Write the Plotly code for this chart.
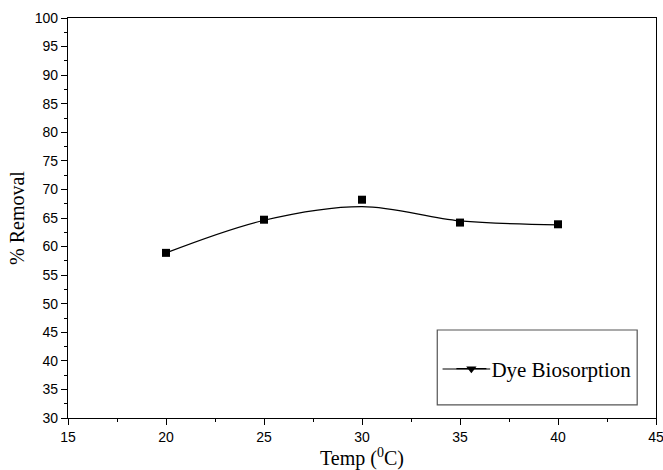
import plotly.graph_objects as go

temp = [20, 25, 30, 35, 40]
removal = [58.9, 64.7, 68.2, 64.2, 63.9]
# smoothed fit curve values at the same temperatures
fit_curve = [58.9, 64.6, 67.0, 64.5, 63.8]
series_name = "Dye Biosorption"

fig = go.Figure()
fig.add_trace(go.Scatter(x=temp, y=fit_curve, mode="lines",
                         line=dict(color="black", width=1.2, shape="spline", smoothing=1.0),
                         showlegend=False, hoverinfo="skip"))
fig.add_trace(go.Scatter(x=temp, y=removal, mode="markers",
                         marker=dict(symbol="square", size=8, color="black"),
                         showlegend=False))
fig.add_trace(go.Scatter(x=[None], y=[None], mode="lines+markers", name=series_name,
                         line=dict(color="black", width=1.2),
                         marker=dict(symbol="triangle-down", size=9, color="black")))

axis_common = dict(showline=True, linecolor="black", linewidth=1.2, mirror=True,
                   ticks="outside", ticklen=6, tickwidth=1, tickcolor="black",
                   showgrid=False, zeroline=False, automargin=False,
                   ticklabeloverflow="allow",
                   tickfont=dict(family="Liberation Sans, Arial", size=14, color="black"),
                   minor=dict(ticks="outside", ticklen=3, tickwidth=1, tickcolor="black", dtick=2.5))

fig.update_xaxes(range=[15, 45], dtick=5, tick0=15, **axis_common)
fig.update_yaxes(range=[30, 100], dtick=5, tick0=30, **axis_common)

title_font = dict(family="Liberation Serif, Times New Roman", size=20, color="black")
fig.add_annotation(text="Temp (<sup>0</sup>C)", xref="paper", yref="paper", x=0.5, y=0,
                   yshift=-39, xanchor="center", yanchor="middle", showarrow=False, font=title_font)
fig.add_annotation(text="% Removal", xref="paper", yref="paper", x=0, y=0.5,
                   xshift=-51, xanchor="center", yanchor="middle", textangle=-90,
                   showarrow=False, font=title_font)

# legend frame
fig.add_shape(type="rect", xref="paper", yref="paper", x0=0.628, x1=0.968, y0=0.033, y1=0.22,
              line=dict(color="#555555", width=1.2), fillcolor="rgba(0,0,0,0)")
# longer legend sample line, as in the reference
fig.add_shape(type="line", xref="paper", yref="paper", x0=0.637, x1=0.718, y0=0.1225, y1=0.1225,
              line=dict(color="black", width=1.2))

fig.update_layout(
    width=663, height=470,
    margin=dict(l=68, r=7, t=18, b=52),
    paper_bgcolor="white", plot_bgcolor="white",
    showlegend=True,
    legend=dict(x=0.652, y=0.1225, xanchor="left", yanchor="middle",
                bgcolor="rgba(0,0,0,0)", borderwidth=0,
                font=dict(family="Liberation Serif, Times New Roman", size=21, color="black")),
)

fig.write_html("out.html", config={"displayModeBar": False},
               post_script="document.body.style.margin='0';document.body.style.overflow='hidden';")
